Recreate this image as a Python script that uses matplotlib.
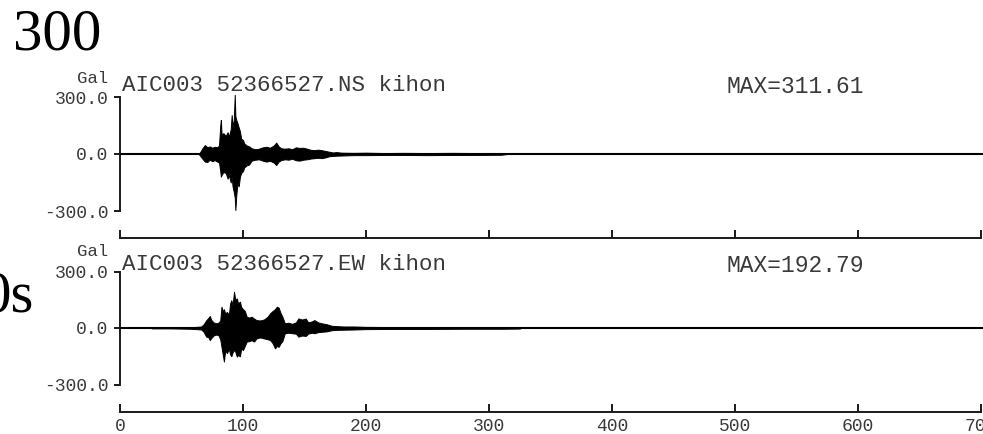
import matplotlib
matplotlib.use("Agg")
import matplotlib.pyplot as plt
import numpy as np

# ---- acceleration envelopes (Gal) vs time (s) ----
ns_time = [0, 64, 65, 67, 69, 71, 73, 75, 77, 79, 80.5, 81.5, 82, 82.6, 84, 86, 87.5,
           88.5, 90, 90.8, 91.5, 92.5, 93.3, 93.8, 94.5, 95.5, 96.5, 97.5, 98.5, 100,
           101, 103, 105, 107, 110, 113, 116, 119, 122, 125, 127, 129, 131, 134, 137,
           140, 143, 146, 149, 152, 155, 158, 161, 164, 167, 170, 173, 176, 180, 190,
           200, 215, 230, 250, 270, 290, 310, 315, 700]
ns_upper = [0, 0, 8, 30, 47, 35, 40, 33, 38, 35, 45, 150, 179, 100, 110, 95, 115,
            90, 130, 205, 140, 180, 311.61, 200, 180, 163, 140, 120, 80, 74,
            55, 45, 40, 30, 25, 28, 35, 38, 33, 45, 60, 40, 30, 28, 30,
            25, 35, 32, 33, 28, 22, 20, 23, 20, 16, 12, 8, 10, 7, 6,
            7, 5, 6, 5, 6, 5, 4, 0, 0]
ns_lower = [0, 0, -8, -25, -40, -42, -30, -38, -32, -40, -45, -90, -119, -110, -95, -100, -130,
            -110, -150, -120, -170, -200, -230, -295, -220, -153, -170, -120, -100, -90,
            -70, -60, -55, -35, -30, -28, -35, -40, -36, -45, -58, -40, -32, -28, -30,
            -25, -33, -35, -30, -28, -24, -22, -20, -22, -18, -12, -10, -9, -8, -6,
            -6, -5, -5, -6, -5, -5, -4, 0, 0]

ew_time = [0, 25, 26, 40, 57, 62, 66, 68, 70, 72, 73, 74, 76, 78, 80, 81.5, 82.5,
           83.5, 84.5, 85.5, 87, 88.5, 89.5, 90.5, 91.5, 92.7, 93.7, 95, 96, 97.5,
           98.5, 100, 101.5, 103, 105, 107, 109, 111, 114, 117, 120, 122, 124, 126,
           127.5, 129, 130.5, 132, 134, 137, 140, 143, 145, 148, 151, 153, 156, 158,
           161, 164, 168, 172, 176, 182, 190, 200, 220, 250, 280, 310, 325, 326, 700]
ew_upper = [0, 0, 2, 2, 4, 6, 8, 20, 40, 55, 64, 45, 30, 25, 28, 40, 113,
            90, 100, 78, 85, 70, 130, 148, 120, 192.79, 150, 157, 130, 140,
            112, 100, 90, 60, 55, 60, 50, 42, 40, 45, 60, 78, 90, 100,
            113, 108, 80, 60, 25, 28, 22, 30, 51, 45, 50, 30, 35, 42,
            30, 25, 20, 12, 10, 8, 8, 6, 5, 5, 4, 4, 3, 0, 0]
ew_lower = [0, 0, -2, -2, -4, -6, -8, -20, -45, -50, -64, -55, -40, -35, -38, -60, -100,
            -140, -178, -120, -133, -110, -140, -150, -130, -117, -125, -152, -143, -150,
            -110, -117, -95, -72, -70, -65, -72, -55, -50, -55, -60, -64, -80, -108,
            -95, -100, -81, -70, -28, -25, -28, -30, -46, -40, -42, -30, -25, -28,
            -22, -20, -18, -12, -10, -9, -8, -6, -5, -5, -4, -4, -3, 0, 0]

titles = ["AIC003 52366527.NS kihon", "AIC003 52366527.EW kihon"]
y_ticks = [-300, 0, 300]
y_tick_labels = ["-300.0", "0.0", "300.0"]
x_ticks = [0, 100, 200, 300, 400, 500, 600, 700]
x_tick_labels = ["0", "100", "200", "300", "400", "500", "600", "700"]

W, H = 983, 434
fig = plt.figure(figsize=(W / 100, H / 100), dpi=100)
fig.patch.set_facecolor("white")

MONO = ["Liberation Mono", "DejaVu Sans Mono"]
SERIF = ["Liberation Serif", "DejaVu Serif"]
INK = "#1a1a1a"
TXT = "#3a3a3a"


def fx(x):
    return x / W


def fy(y):
    return 1 - y / H


def add_panel(top_px, axis_px, zero_px, px300):
    # vertical scale: px300 pixels per 300 Gal, zero line at zero_px
    ymax = (zero_px - top_px) / px300 * 300
    ymin = -(axis_px - zero_px) / px300 * 300
    ax = fig.add_axes([fx(120), fy(axis_px), (983 - 120) / W, (axis_px - top_px) / H])
    ax.set_xlim(0, 863 / 1.23)
    ax.set_ylim(ymin, ymax)
    ax.set_facecolor("none")
    for s in ("top", "right"):
        ax.spines[s].set_visible(False)
    ax.spines["left"].set_bounds(-300, 300)
    ax.spines["bottom"].set_bounds(0, 700)
    for s in ("left", "bottom"):
        ax.spines[s].set_linewidth(1.4)
        ax.spines[s].set_color(INK)
    ax.set_yticks(y_ticks)
    ax.set_yticklabels(y_tick_labels)
    ax.set_xticks(x_ticks)
    ax.tick_params(axis="y", direction="out", length=4.5, width=1.4, color=INK,
                   pad=4, labelsize=13, labelcolor=TXT)
    ax.tick_params(axis="x", direction="in", length=5.5, width=1.4, color=INK,
                   pad=4.5, labelsize=13, labelcolor=TXT)
    for lab in ax.get_yticklabels() + ax.get_xticklabels():
        lab.set_family(MONO)
    return ax


ax1 = add_panel(80, 238, 154, 57.0)
ax2 = add_panel(255, 412, 328, 56.5)
ax1.set_xticklabels([])
ax2.set_xticklabels(x_tick_labels)
for lab in ax2.get_xticklabels():
    lab.set_family(MONO)

for ax, t, up, lo in ((ax1, ns_time, ns_upper, ns_lower), (ax2, ew_time, ew_upper, ew_lower)):
    ax.fill_between(t, lo, up, color="black", linewidth=0.7, edgecolor="black", zorder=3)
    ax.axhline(0, color="black", linewidth=1.5, zorder=2)

# panel headers
peaks = [max(abs(v) for v in ns_upper + ns_lower), max(abs(v) for v in ew_upper + ew_lower)]
for title, peak, base_y, gal_y in ((titles[0], peaks[0], 91, 83), (titles[1], peaks[1], 270, 256)):
    fig.text(fx(122), fy(base_y), title, family=MONO, fontsize=16.2, color=TXT,
             ha="left", va="baseline")
    fig.text(fx(727), fy(base_y + 2), f"MAX={peak:.2f}", family=MONO, fontsize=16.5,
             color=TXT, ha="left", va="baseline")
    fig.text(fx(108), fy(gal_y), "Gal", family=MONO, fontsize=12.5, color=TXT,
             ha="right", va="baseline")

# large annotations at the left edge
fig.text(fx(13), fy(50), "300", family=SERIF, fontsize=42.5, color="black",
         ha="left", va="baseline")
fig.text(fx(-18), fy(312), "0s", family=SERIF, fontsize=42.5, color="black",
         ha="left", va="baseline")

fig.savefig("out.png", dpi=100, facecolor="white")
